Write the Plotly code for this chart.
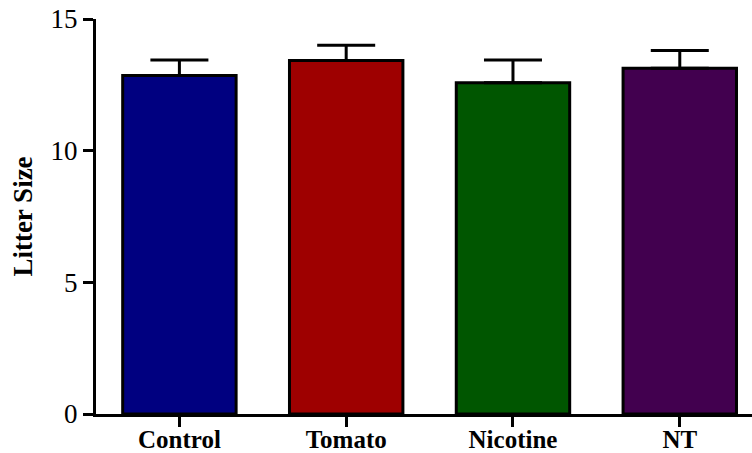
import plotly.graph_objects as go

categories = ["Control", "Tomato", "Nicotine", "NT"]
means = [12.85, 13.42, 12.58, 13.13]
errors = [0.59, 0.58, 0.86, 0.67]
colors = ["#000080", "#9e0000", "#005600", "#42004f"]
y_ticks = [0, 5, 10, 15]

SERIF = "Liberation Serif"

fig = go.Figure()
fig.add_trace(go.Bar(
    x=categories,
    y=means,
    width=[0.68] * len(categories),
    marker=dict(color=colors, line=dict(color="black", width=3)),
    error_y=dict(type="data", array=errors, arrayminus=[0] * len(errors),
                 symmetric=False, color="black", thickness=3, width=29),
))

fig.update_layout(
    width=752, height=453,
    margin=dict(l=96, r=0, t=19, b=39),
    plot_bgcolor="white", paper_bgcolor="white",
    showlegend=False,
    font=dict(family=SERIF, color="black"),
)
fig.update_xaxes(
    range=[-0.5, 3.433], automargin=False,
    showline=True, linecolor="black", linewidth=3,
    ticks="outside", ticklen=10, tickwidth=3, tickcolor="black",
    ticklabelstandoff=-9,
    tickfont=dict(family=SERIF, size=25, color="black", weight="bold"),
    showgrid=False, zeroline=False,
)
fig.update_yaxes(
    range=[0, 15], tickvals=y_ticks, automargin=False,
    showline=True, linecolor="black", linewidth=3,
    ticks="outside", ticklen=10, tickwidth=3, tickcolor="black",
    tickfont=dict(family=SERIF, size=27, color="black"),
    showgrid=False, zeroline=False,
    title=dict(text="Litter Size", font=dict(family=SERIF, size=27, color="black", weight="bold"), standoff=11),
)

fig.write_html("out.html")
